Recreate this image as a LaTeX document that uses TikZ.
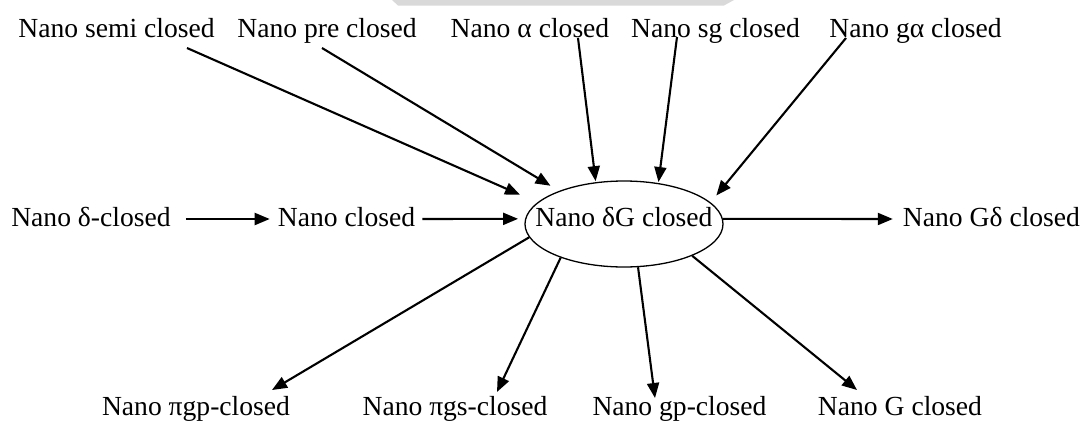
\documentclass[tikz,border=0pt]{standalone}
\usepackage{fontspec}
\setmainfont{Liberation Serif}
\usetikzlibrary{arrows.meta,shapes.geometric,calc}
\begin{document}
\begin{tikzpicture}[x=1pt,y=-1pt,
  lbl/.style={inner sep=0pt, anchor=base, font=\fontsize{27.6}{33}\selectfont},
  arr/.style={line width=2.1pt, -{Triangle[length=15pt,width=12pt]}},
]
\path[use as bounding box] (0,0) rectangle (1087,421);
\fill[gray!30] (392,0) -- (734,0) -- (724,5.5) -- (398,5.5) -- cycle;

% top row
\node[lbl] (semi) at (116.5,37) {Nano semi closed};
\node[lbl] (pre)  at (327,37)   {Nano pre closed};
\node[lbl] (alp)  at (530,37)   {Nano α closed};
\node[lbl] (sg)   at (715.5,37) {Nano sg closed};
\node[lbl] (ga)   at (915.5,37) {Nano gα closed};

% middle row
\node[lbl] (dc) at (91,226)    {Nano δ-closed};
\node[lbl] (nc) at (346.5,226) {Nano closed};
\node[draw, ellipse, line width=1.3pt, minimum width=198pt, minimum height=86pt, inner sep=0pt] (e) at (624,224) {};
\node[lbl] (et) at (624,226)   {Nano δG closed};
\node[lbl] (gd) at (991.5,226) {Nano Gδ closed};

% bottom row
\node[lbl] (pgp) at (196,415)   {Nano πgp-closed};
\node[lbl] (pgs) at (455,415)   {Nano πgs-closed};
\node[lbl] (gp)  at (679.5,415) {Nano gp-closed};
\node[lbl] (G)   at (900,415)   {Nano G closed};

% top arrows
\draw[arr, shorten >=19pt] ([shift={(70.5,11)}]semi.base) -- (e.166.7);
\draw[arr, shorten >=10pt] ([shift={(-5,11)}]pre.base) -- (e.153.4);
\draw[arr, shorten >=1pt]  ([shift={(48,1)}]alp.base) -- (e.124.2);
\draw[arr, shorten >=1pt]  ([shift={(-38.5,0)}]sg.base) -- (e.50.8);
\draw[arr, shorten >=9pt]  ([shift={(-69.5,1)}]ga.base) -- (e.14.5);

% middle arrows
\draw[arr] ([shift={(15,-7)}]dc.base east) -- ([shift={(-8,-7)}]nc.base west);
\draw[arr, shorten >=7pt] ([shift={(7,-7)}]nc.base east) -- (e.177);
\draw[arr] (e.3) -- ([shift={(-10,-7)}]gd.base west);

% bottom arrows
\draw[arr] (e.188.9) -- ([shift={(76,-25)}]pgp.base);
\draw[arr] (e.208)   -- ([shift={(42,-23)}]pgs.base);
\draw[arr] (e.288)   -- ([shift={(-24.5,-17)}]gp.base);
\draw[arr] (e.335.7) -- ([shift={(-43,-25)}]G.base);
\end{tikzpicture}
\end{document}
